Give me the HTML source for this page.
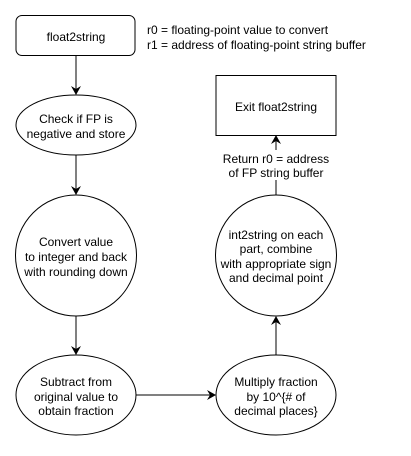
<!DOCTYPE html>
<html><head><style>body{margin:0;background:#fff}</style></head><body>
<svg width="411" height="451" xmlns="http://www.w3.org/2000/svg" font-family="Liberation Sans, sans-serif" font-size="12" fill="none" stroke="#000">
<defs><marker id="a" markerWidth="10" markerHeight="10" refX="8" refY="5" orient="auto" markerUnits="userSpaceOnUse"><path d="M0,0 L9,5 L0,10 L3,5 Z" fill="#000" stroke="none"/></marker></defs>
<rect x="16" y="15.5" width="119" height="40" rx="6" fill="#fff"/>
<rect x="216" y="75.5" width="120" height="60" fill="#fff"/>
<ellipse cx="76" cy="125" rx="60" ry="30"/>
<circle cx="76" cy="255.5" r="60.5"/>
<ellipse cx="76" cy="395" rx="60" ry="40"/>
<ellipse cx="276" cy="395" rx="60" ry="40"/>
<circle cx="276" cy="255.5" r="60.5"/>
<g stroke-width="1">
<line x1="76" y1="56" x2="76" y2="94" marker-end="url(#a)"/>
<line x1="76" y1="155" x2="76" y2="194" marker-end="url(#a)"/>
<line x1="76" y1="316" x2="76" y2="354" marker-end="url(#a)"/>
<line x1="136" y1="395" x2="215" y2="395" marker-end="url(#a)"/>
<line x1="276" y1="355" x2="276" y2="317" marker-end="url(#a)"/>
<line x1="276" y1="195" x2="276" y2="136" marker-end="url(#a)"/>
</g>
<rect x="226" y="150" width="100" height="30" fill="#fff" stroke="none"/>
<g fill="#000" stroke="none" text-anchor="middle">
<text x="76" y="41">float2string</text>
<text x="276" y="111">Exit float2string</text>
<text x="276" y="163">Return r0 = address</text>
<text x="276" y="177">of FP string buffer</text>
<text x="76" y="123">Check if FP is</text>
<text x="76" y="138">negative and store</text>
<text x="76" y="246">Convert value</text>
<text x="76" y="261">to integer and back</text>
<text x="76" y="276">with rounding down</text>
<text x="76" y="386">Subtract from</text>
<text x="76" y="401">original value to</text>
<text x="76" y="415">obtain fraction</text>
<text x="276" y="386">Multiply fraction</text>
<text x="276" y="401">by 10^{# of</text>
<text x="276" y="415">decimal places}</text>
<text x="276" y="239">int2string on each</text>
<text x="276" y="253">part, combine</text>
<text x="276" y="268">with appropriate sign</text>
<text x="276" y="282">and decimal point</text>
<g text-anchor="start">
<text x="147" y="34">r0 = floating-point value to convert</text>
<text x="147" y="49">r1 = address of floating-point string buffer</text>
</g>
</g>
</svg>
</body></html>
